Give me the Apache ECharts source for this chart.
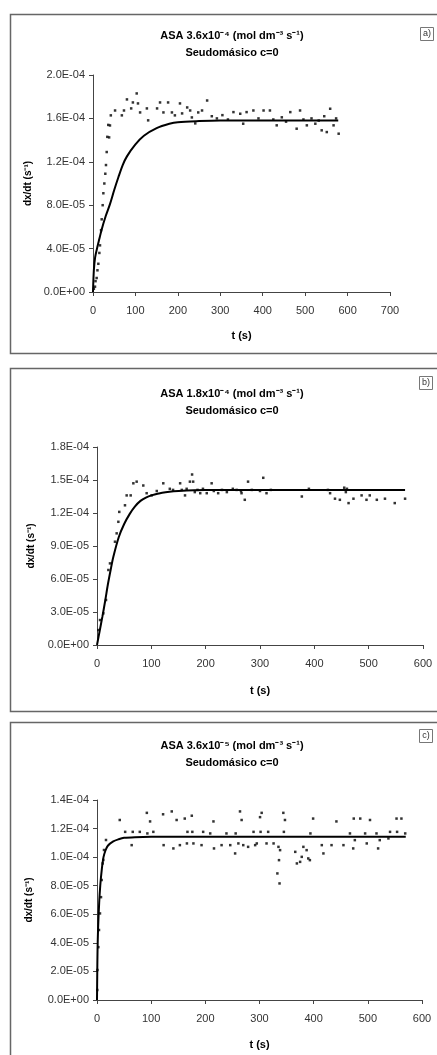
<!DOCTYPE html>
<html>
<head>
<meta charset="utf-8">
<script src="https://cdn.jsdelivr.net/npm/echarts@6/dist/echarts.min.js"></script>
<style>
  html, body { margin: 0; padding: 0; background: #fff; }
  #chart { width: 437px; height: 1055px; }
</style>
</head>
<body>
<div id="chart"></div>
<script>
// Panel titles and tags
const titlesA = ['ASA 3.6x10⁻⁴ (mol dm⁻³ s⁻¹)', 'Seudomásico c=0'];
const titlesB = ['ASA 1.8x10⁻⁴ (mol dm⁻³ s⁻¹)', 'Seudomásico c=0'];
const titlesC = ['ASA 3.6x10⁻⁵ (mol dm⁻³ s⁻¹)', 'Seudomásico c=0'];
const tags = ['a)', 'b)', 'c)'];
const xName = 't (s)';
const yName = 'dx/dt (s⁻¹)';

// Axis ranges: [xMax, xStep, yMax, yStep]
const axesA = [700, 100, 2.0e-4, 4.0e-5];
const axesB = [600, 100, 1.8e-4, 3.0e-5];
const axesC = [600, 100, 1.4e-4, 2.0e-5];

// Panel a: measured rate [t, dx/dt] and fitted curve
const pointsA = [
  [2,3e-6],[4.7,4.9e-6],[6,1.0e-5],[8.6,1.29e-5],[10.5,2.0e-5],[12.6,2.6e-5],[15,3.6e-5],[16.5,4.3e-5],
  [19,5.7e-5],[20.5,6.7e-5],[22.8,8.0e-5],[24.4,9.1e-5],[26.7,1.0e-4],[29,1.09e-4],[30.6,1.17e-4],
  [32.3,1.29e-4],[33.7,1.43e-4],[36,1.54e-4],[38,1.425e-4],[40,1.535e-4],[42,1.628e-4],[52,1.673e-4],
  [68,1.628e-4],[73,1.673e-4],[80,1.775e-4],[90,1.692e-4],[94,1.747e-4],[103,1.83e-4],[106,1.738e-4],
  [111,1.655e-4],[127,1.692e-4],[130,1.582e-4],[151,1.692e-4],[158,1.747e-4],[166,1.655e-4],
  [177,1.747e-4],[186,1.655e-4],[193,1.628e-4],[205,1.738e-4],[210,1.646e-4],[222,1.701e-4],
  [229,1.673e-4],[233,1.609e-4],[241,1.554e-4],[248,1.655e-4],[257,1.673e-4],[269,1.765e-4],
  [280,1.62e-4],[292,1.60e-4],[305,1.63e-4],[318,1.59e-4],[331,1.658e-4],[347,1.643e-4],
  [354,1.551e-4],[362,1.658e-4],[378,1.673e-4],[390,1.60e-4],[402,1.673e-4],[417,1.673e-4],
  [425,1.59e-4],[433,1.536e-4],[445,1.61e-4],[455,1.57e-4],[465,1.658e-4],[480,1.505e-4],
  [488,1.673e-4],[496,1.59e-4],[504,1.536e-4],[515,1.60e-4],[524,1.551e-4],[532,1.58e-4],
  [539,1.49e-4],[545,1.62e-4],[551,1.474e-4],[559,1.689e-4],[567,1.536e-4],[573,1.60e-4],[579,1.459e-4]
];
const fitA = [
  [0,0],[2,2.0e-5],[5,3.2e-5],[10,4.1e-5],[15,4.9e-5],[20,5.7e-5],[30,7.0e-5],[40,8.1e-5],
  [50,9.4e-5],[60,1.06e-4],[70,1.17e-4],[80,1.25e-4],[100,1.36e-4],[120,1.44e-4],[150,1.51e-4],
  [180,1.55e-4],[200,1.565e-4],[250,1.575e-4],[300,1.58e-4],[400,1.58e-4],[500,1.58e-4],[578,1.58e-4]
];

// Panel b
const pointsB = [
  [2.5,1.36e-5],[5.5,2.27e-5],[11.7,2.88e-5],[16.6,4.09e-5],[20.9,6.82e-5],[23.9,7.42e-5],
  [33.1,9.39e-5],[36.2,1.015e-4],[39.3,1.12e-4],[41,1.21e-4],[51.5,1.27e-4],[54.6,1.36e-4],
  [62,1.36e-4],[66.9,1.47e-4],[73,1.485e-4],[85.2,1.45e-4],[91.4,1.38e-4],[100.6,1.36e-4],
  [110,1.40e-4],[122,1.47e-4],[134,1.42e-4],[140,1.41e-4],[153,1.47e-4],[156,1.41e-4],[162,1.36e-4],
  [165,1.42e-4],[171,1.485e-4],[175,1.55e-4],[177,1.485e-4],[180,1.39e-4],[185,1.41e-4],[190,1.38e-4],
  [195,1.42e-4],[202,1.38e-4],[211,1.47e-4],[215,1.40e-4],[223,1.38e-4],[230,1.41e-4],[239,1.39e-4],
  [250,1.42e-4],[257,1.41e-4],[265,1.40e-4],[266,1.38e-4],[272,1.32e-4],[278,1.485e-4],[285,1.41e-4],
  [300,1.40e-4],[306,1.52e-4],[312,1.38e-4],[320,1.41e-4],[377,1.35e-4],[390,1.42e-4],[425,1.41e-4],
  [429,1.38e-4],[438,1.33e-4],[447,1.32e-4],[455,1.43e-4],[458,1.39e-4],[460,1.42e-4],[463,1.29e-4],
  [472,1.33e-4],[487,1.36e-4],[496,1.32e-4],[502,1.36e-4],[515,1.32e-4],[530,1.33e-4],[548,1.29e-4],
  [567,1.33e-4]
];
const fitB = [
  [0,0],[5,1.3e-5],[10,2.6e-5],[15,4.0e-5],[20,5.5e-5],[25,6.8e-5],[30,8.0e-5],[40,9.8e-5],
  [50,1.1e-4],[60,1.19e-4],[70,1.26e-4],[80,1.31e-4],[90,1.34e-4],[100,1.36e-4],[120,1.385e-4],
  [150,1.40e-4],[200,1.41e-4],[300,1.41e-4],[400,1.41e-4],[567,1.41e-4]
];

// Panel c
const pointsC = [
  [0.5,7.0e-6],[0.8,2.1e-5],[2.5,3.7e-5],[3.7,4.9e-5],[5.5,6.06e-5],[7.4,7.2e-5],[8.6,8.4e-5],
  [10.5,9.56e-5],[11.7,9.8e-5],[12.9,1.05e-4],[16.6,1.12e-4],
  [42,1.26e-4],[52,1.177e-4],[64,1.084e-4],[66,1.177e-4],[79,1.177e-4],[92,1.31e-4],[93,1.166e-4],
  [98,1.25e-4],[104,1.177e-4],[122,1.30e-4],[123,1.084e-4],[138,1.32e-4],[141,1.061e-4],
  [147,1.26e-4],[153,1.084e-4],[162,1.27e-4],[166,1.096e-4],[167,1.177e-4],[175,1.29e-4],
  [176,1.177e-4],[178,1.096e-4],[193,1.084e-4],[196,1.177e-4],[209,1.166e-4],[215,1.25e-4],
  [216,1.061e-4],[230,1.084e-4],[239,1.166e-4],[246,1.084e-4],[255,1.026e-4],[256,1.166e-4],
  [261,1.096e-4],[264,1.32e-4],[267,1.26e-4],[270,1.084e-4],[279,1.072e-4],[289,1.177e-4],
  [292,1.084e-4],[295,1.096e-4],[301,1.28e-4],[302,1.177e-4],[304,1.31e-4],[313,1.096e-4],
  [316,1.177e-4],[326,1.096e-4],[333,8.86e-5],[335,1.072e-4],[336,9.79e-5],[337,8.16e-5],
  [338,1.049e-4],[344,1.31e-4],[345,1.177e-4],[347,1.26e-4],[366,1.037e-4],[369,9.56e-5],
  [375,9.67e-5],[378,1.002e-4],[381,1.072e-4],[387,1.049e-4],[390,9.91e-5],[393,9.79e-5],
  [394,1.166e-4],[399,1.27e-4],[415,1.084e-4],[418,1.026e-4],[433,1.084e-4],[442,1.25e-4],
  [455,1.084e-4],[467,1.166e-4],[473,1.061e-4],[474,1.27e-4],[476,1.119e-4],[486,1.27e-4],
  [495,1.166e-4],[498,1.096e-4],[504,1.26e-4],[516,1.166e-4],[519,1.061e-4],[522,1.119e-4],
  [538,1.131e-4],[541,1.177e-4],[553,1.27e-4],[554,1.177e-4],[562,1.27e-4],[569,1.166e-4]
];
const fitC = [
  [0,0],[0.5,2.0e-5],[1,3.5e-5],[2,5.0e-5],[4,6.8e-5],[6,8.0e-5],[9,9.2e-5],[12,1.0e-4],
  [16,1.05e-4],[20,1.08e-4],[30,1.11e-4],[40,1.125e-4],[50,1.135e-4],[70,1.14e-4],[100,1.142e-4],
  [300,1.143e-4],[570,1.143e-4]
];

const FONT = '"Liberation Sans", Arial, sans-serif';

// "4.0E-05" style tick labels
function sci(v) {
  const s = Number(v).toExponential(1);
  const parts = s.split('e');
  const e = parseInt(parts[1], 10);
  return parts[0] + 'E' + (e < 0 ? '-' : '+') + String(Math.abs(e)).padStart(2, '0');
}

// Layout of the three stacked panels
const panels = [
  { titles: titlesA, axes: axesA, points: pointsA, fit: fitA,
    grid: { left: 93, top: 75, width: 297, height: 217 },
    box: [10, 14, 339], titleTop: 22, tag: [420, 27], xGap: 38, yGap: 59 },
  { titles: titlesB, axes: axesB, points: pointsB, fit: fitB,
    grid: { left: 97, top: 447, width: 326, height: 198 },
    box: [10, 368, 343], titleTop: 380, tag: [419, 376], xGap: 40, yGap: 61 },
  { titles: titlesC, axes: axesC, points: pointsC, fit: fitC,
    grid: { left: 97, top: 800, width: 325, height: 200 },
    box: [10, 722, 345], titleTop: 732, tag: [419, 729], xGap: 39, yGap: 63 }
];

const option = {
  backgroundColor: '#fff',
  animation: false,
  title: [], grid: [], xAxis: [], yAxis: [], series: [], graphic: []
};

panels.forEach((p, i) => {
  option.title.push({
    text: p.titles[0] + '\n' + p.titles[1],
    left: 227, top: p.titleTop, textAlign: 'center',
    textStyle: { fontFamily: FONT, fontSize: 11, fontWeight: 'bold', color: '#000', lineHeight: 17 }
  });
  option.grid.push(Object.assign({ containLabel: false }, p.grid));
  const axisLine = { show: true, lineStyle: { color: '#444', width: 1 } };
  option.xAxis.push({
    type: 'value', gridIndex: i, min: 0, max: p.axes[0], interval: p.axes[1],
    name: xName, nameLocation: 'middle', nameGap: p.xGap,
    nameTextStyle: { fontFamily: FONT, fontSize: 11, fontWeight: 'bold', color: '#000' },
    axisLine: axisLine, axisTick: { show: true, length: 4, lineStyle: { color: '#444' } },
    axisLabel: { fontFamily: FONT, fontSize: 11, color: '#333', margin: 13 },
    splitLine: { show: false }
  });
  option.yAxis.push({
    type: 'value', gridIndex: i, min: 0, max: p.axes[2], interval: p.axes[3],
    name: yName, nameLocation: 'middle', nameGap: p.yGap, nameRotate: 90,
    nameTextStyle: { fontFamily: FONT, fontSize: 10, fontWeight: 'bold', color: '#000' },
    axisLine: axisLine, axisTick: { show: true, length: 4, lineStyle: { color: '#444' } },
    axisLabel: { fontFamily: FONT, fontSize: 11, color: '#333', margin: 8, formatter: sci },
    splitLine: { show: false }
  });
  option.series.push({
    type: 'scatter', xAxisIndex: i, yAxisIndex: i, data: p.points,
    symbol: 'rect', symbolSize: 2.5, itemStyle: { color: '#000' }, z: 2
  });
  option.series.push({
    type: 'line', xAxisIndex: i, yAxisIndex: i, data: p.fit, smooth: 0.3,
    showSymbol: false, lineStyle: { color: '#000', width: 2 }, z: 3
  });
  // panel frame
  option.graphic.push({
    type: 'rect', shape: { x: p.box[0] + 0.5, y: p.box[1] + 0.5, width: 440, height: p.box[2] },
    style: { fill: 'none', stroke: '#666', lineWidth: 1.5 }, silent: true
  });
  // panel tag box
  option.graphic.push({
    type: 'group', left: p.tag[0], top: p.tag[1], children: [
      { type: 'rect', shape: { x: 0.5, y: 0.5, width: 13, height: 13 },
        style: { fill: '#fff', stroke: '#777', lineWidth: 1 } },
      { type: 'text', x: 7, y: 7, style: { text: tags[i], fontFamily: FONT, fontSize: 9,
        fill: '#333', align: 'center', verticalAlign: 'middle' } }
    ]
  });
});

const chart = echarts.init(document.getElementById('chart'), null, { renderer: 'canvas' });
chart.setOption(option);
</script>
</body>
</html>
